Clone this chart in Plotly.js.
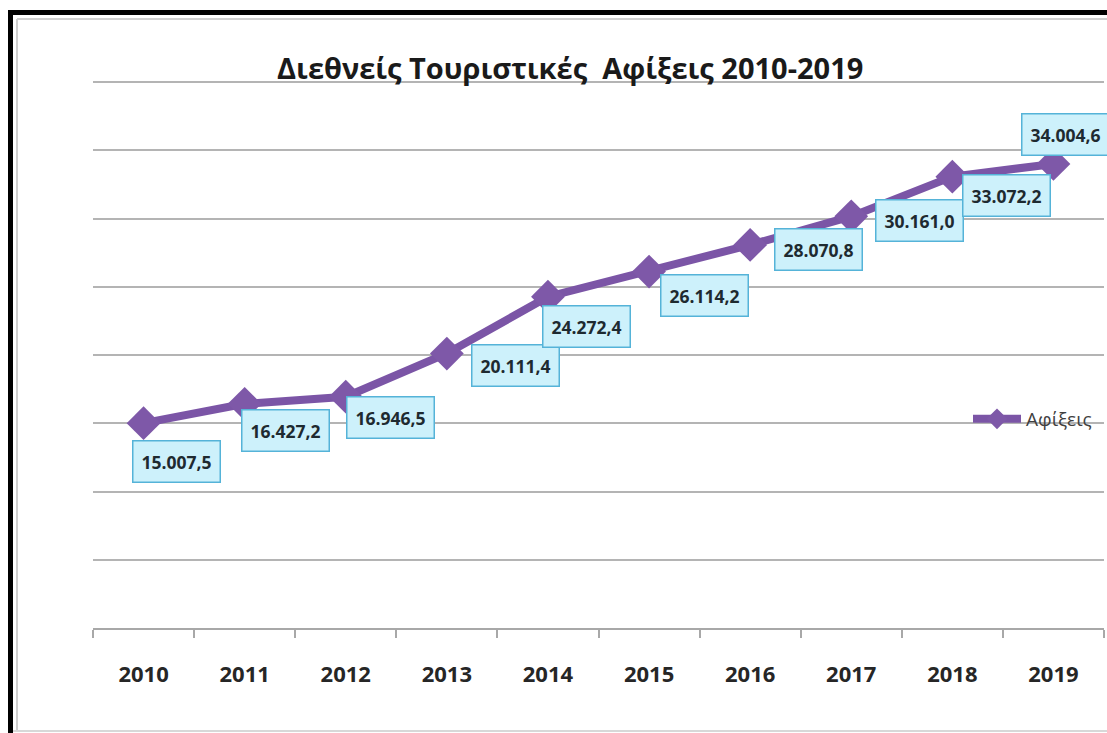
<!DOCTYPE html>
<html>
<head>
<meta charset="utf-8">
<script src="https://cdn.plot.ly/plotly-3.0.1.min.js"></script>
<style>
html,body{margin:0;padding:0;background:#fff;}
#chart{width:1107px;height:733px;}
</style>
</head>
<body>
<div id="chart"></div>
<script>
// ---- data ----
const years = ['2010','2011','2012','2013','2014','2015','2016','2017','2018','2019'];
const arrivals = [15007.5, 16427.2, 16946.5, 20111.4, 24272.4, 26114.2, 28070.8, 30161.0, 33072.2, 34004.6];
const seriesName = 'Αφίξεις';
const chartTitle = 'Διεθνείς Τουριστικές\u00a0\u00a0Αφίξεις 2010-2019';

// label placement offsets (pixels, style only)
const labelDx = [33, 41, 45, 69, 39, 55, 68, 68, 54, 12];
const labelDy = [-38, -27, -21, -12, -30, -24, -5, -4, -19, 29];

function fmtGreek(v){
  const parts = v.toFixed(1).split('.');
  const intPart = parts[0].replace(/\B(?=(\d{3})+(?!\d))/g, '.');
  return intPart + ',' + parts[1];
}

const purple = '#7b55a6';

const trace = {
  x: years,
  y: arrivals,
  name: seriesName,
  type: 'scatter',
  mode: 'lines+markers',
  line: {color: purple, width: 8},
  marker: {symbol: 'diamond', size: 26, color: '#7e58a8'},
  cliponaxis: false,
  hoverinfo: 'x+y'
};

const annotations = years.map((yr, i) => ({
  x: i, y: arrivals[i], xref: 'x', yref: 'y',
  text: '<b>' + fmtGreek(arrivals[i]) + '</b>',
  showarrow: false,
  xshift: labelDx[i], yshift: labelDy[i],
  bgcolor: '#cdf1fb',
  bordercolor: '#55b3d8',
  borderwidth: 1.5,
  borderpad: 8,
  font: {family: 'Open Sans, sans-serif', size: 17.5, color: '#1e2a30'}
}));

const W = 1011, H = 550, L = 93, T = 78;
function px(x){ return (x - L) / W; }
function py(y){ return (T + H - y) / H; }

annotations.push({
  text: '<b>' + chartTitle + '</b>',
  xref: 'paper', yref: 'paper',
  x: 0.472, y: py(82),
  xanchor: 'center', yanchor: 'bottom',
  yshift: -7,
  showarrow: false,
  font: {family: 'Open Sans, sans-serif', size: 29, color: '#1a1a1a'}
});

const shapes = [
  {type:'line', xref:'paper', yref:'paper', x0:px(10.5), x1:px(10.5), y0:py(740), y1:py(12.5), line:{color:'#000', width:5}},
  {type:'line', xref:'paper', yref:'paper', x0:px(8), x1:px(1120), y0:py(12.5), y1:py(12.5), line:{color:'#000', width:5}},
  {type:'line', xref:'paper', yref:'paper', x0:px(17), x1:px(17), y0:py(730), y1:py(19), line:{color:'#cfcfcf', width:2}},
  {type:'line', xref:'paper', yref:'paper', x0:px(17), x1:px(1120), y0:py(19), y1:py(19), line:{color:'#cfcfcf', width:2}},
  {type:'line', xref:'paper', yref:'paper', x0:px(13), x1:px(1120), y0:py(731), y1:py(731), line:{color:'#d8d8d8', width:2}}
];

const layout = {
  width: 1107, height: 733,
  margin: {l: L, r: 3, t: T, b: 105},
  paper_bgcolor: '#ffffff',
  plot_bgcolor: '#ffffff',
  showlegend: true,
  legend: {
    x: px(968), y: py(419), xanchor: 'left', yanchor: 'middle',
    font: {family: 'Open Sans, sans-serif', size: 19, color: '#404040'},
    bgcolor: 'rgba(0,0,0,0)',
    itemwidth: 48
  },
  xaxis: {
    type: 'category',
    range: [-0.5, 9.5],
    showgrid: false,
    showline: true,
    linecolor: '#a8a8a8',
    linewidth: 2,
    ticks: 'outside',
    tickson: 'boundaries',
    ticklen: 8,
    tickwidth: 2,
    tickcolor: '#a8a8a8',
    tickfont: {family: 'Open Sans, sans-serif', size: 22, color: '#262626', weight: 'bold'},
    ticklabelstandoff: 26,
    fixedrange: true
  },
  yaxis: {
    range: [0, 40300],
    dtick: 5000,
    showgrid: true,
    gridcolor: '#b4b4b4',
    gridwidth: 2,
    showticklabels: false,
    zeroline: false,
    showline: false,
    fixedrange: true
  },
  annotations: annotations,
  shapes: shapes
};

Plotly.newPlot('chart', [trace], layout, {displayModeBar: false, staticPlot: true});
</script>
</body>
</html>
